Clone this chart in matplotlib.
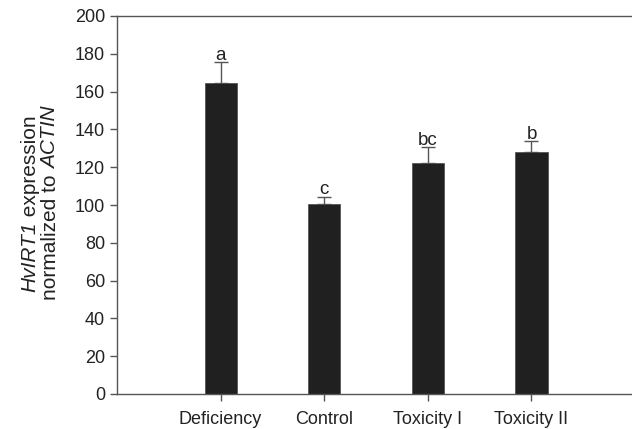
import matplotlib
matplotlib.use("Agg")
from matplotlib import pyplot as plt
import numpy as np

# data
groups = ["Deficiency", "Control", "Toxicity I", "Toxicity II"]
expression = [164.6, 100.7, 122.2, 128.2]
errors = [10.9, 3.7, 8.4, 5.5]
letters = ["a", "c", "bc", "b"]

# y label, two lines made of (text, style) pieces
label_lines = [[("HvIRT1", "italic"), (" expression", "normal")],
               [("normalized to ", "normal"), ("ACTIN", "italic")]]

plt.rcParams["font.family"] = ["Liberation Sans", "DejaVu Sans"]

fig = plt.figure(figsize=(6.32, 4.29), dpi=100)
ax = fig.add_axes([117 / 632, 1 - 394 / 429, 1 - 117 / 632, 378 / 429])

x = np.arange(1, len(groups) + 1)
ax.bar(x, expression, width=0.31, color="#202020", edgecolor="#555555", linewidth=0.6, zorder=2)
ax.errorbar(x, expression, yerr=[np.zeros(len(x)), errors], fmt="none",
            ecolor="#555555", elinewidth=1, capsize=5, capthick=1, zorder=1)
for xi, v, e, t in zip(x, expression, errors, letters):
    ax.text(xi, v + e + 1.2, t, ha="center", va="baseline", fontsize=13.5, color="#222222")

ax.set_xlim(0, 4.97)
ax.set_ylim(0, 200)
ax.set_yticks(np.arange(0, 201, 20))
ax.set_xticks(x)
ax.set_xticklabels(groups)
ax.tick_params(direction="out", length=5, width=1, colors="#555555", labelcolor="#222222",
               labelsize=13)
ax.tick_params(axis="x", pad=7)
ax.spines["right"].set_visible(False)
for s in ["left", "bottom", "top"]:
    ax.spines[s].set_color("#555555")
    ax.spines[s].set_linewidth(1)

# rotated label built piece by piece so the italic parts (incl. the digit) stay italic
renderer = fig.canvas.get_renderer()
W, H = 632, 429
baselines = [35.5, 56.5]
center_y = 203.5
for bx, pieces in zip(baselines, label_lines):
    texts = []
    for s, style in pieces:
        t = fig.text(bx / W, 0, s, rotation=90, rotation_mode="anchor",
                     ha="left", va="baseline", fontsize=15, fontstyle=style, color="#222222")
        texts.append(t)
    lengths = [t.get_window_extent(renderer).height for t in texts]
    ypos = (H - center_y) - sum(lengths) / 2
    for t, l in zip(texts, lengths):
        t.set_position((bx / W, ypos / H))
        ypos += l

fig.savefig("out.png", dpi=100)
